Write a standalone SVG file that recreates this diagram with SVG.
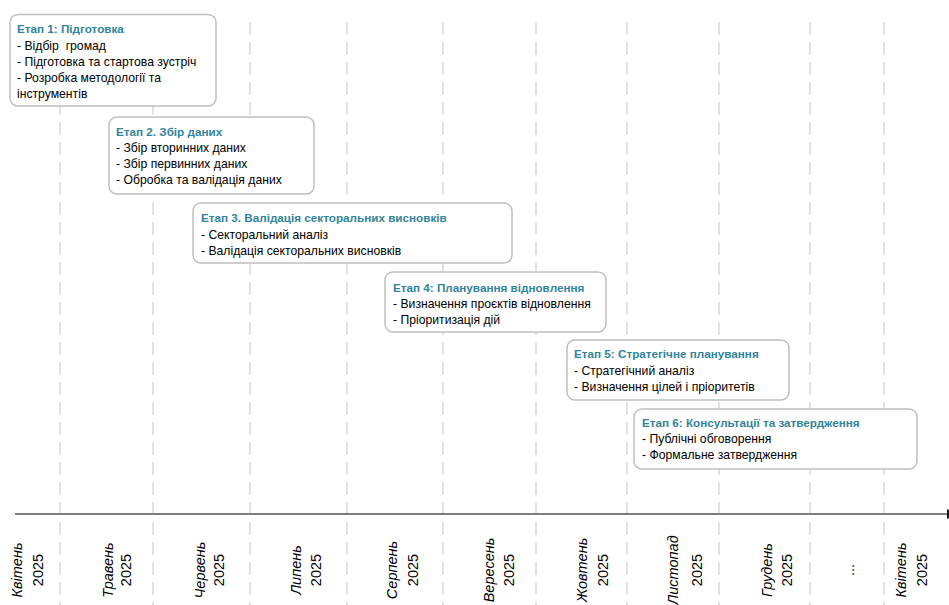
<svg xmlns="http://www.w3.org/2000/svg" width="949" height="605" viewBox="0 0 949 605">
<style>
.grid{stroke:#D9D9D9;stroke-width:1.5;stroke-dasharray:13 7;fill:none}
.box{fill:#FFFFFF;stroke:#BFBFBF;stroke-width:1.5}
.ttl{font-family:"Liberation Sans",Arial,sans-serif;font-size:11.7px;font-weight:bold;fill:#31849B}
.txt{font-family:"Liberation Sans",Arial,sans-serif;font-size:12.2px;fill:#000000}
.mon{font-family:"Liberation Sans",Arial,sans-serif;font-size:14.5px;font-style:italic;fill:#000000;text-anchor:middle}
.yr{font-family:"Liberation Sans",Arial,sans-serif;font-size:14.5px;fill:#000000;text-anchor:middle}
</style>
<defs>
<marker id="arr" markerWidth="10" markerHeight="10" refX="0" refY="5" orient="auto" markerUnits="userSpaceOnUse">
<path d="M0,0 L10,5 L0,10 Z" fill="#1a1a1a"/>
</marker>
</defs>
<rect width="949" height="605" fill="#FFFFFF"/>
<g id="grid">
<line class="grid" x1="60" y1="22" x2="60" y2="605"/>
<line class="grid" x1="153" y1="22" x2="153" y2="605"/>
<line class="grid" x1="250" y1="22" x2="250" y2="605"/>
<line class="grid" x1="347" y1="22" x2="347" y2="605"/>
<line class="grid" x1="443" y1="22" x2="443" y2="605"/>
<line class="grid" x1="536" y1="22" x2="536" y2="605"/>
<line class="grid" x1="627" y1="22" x2="627" y2="605"/>
<line class="grid" x1="719" y1="22" x2="719" y2="605"/>
<line class="grid" x1="810" y1="22" x2="810" y2="605"/>
<line class="grid" x1="884" y1="22" x2="884" y2="605"/>
</g>
<g id="connectors">
<line x1="15" y1="514" x2="947" y2="514" stroke="#7F7F7F" stroke-width="1.8" marker-end="url(#arr)"/>
</g>
<g id="stage1">
<rect class="box" x="10" y="14.5" width="206" height="91.5" rx="8"/>
<text class="ttl" x="17" y="33">Етап 1: Підготовка</text>
<text class="txt" x="17" y="50">- Відбір &#160;громад</text>
<text class="txt" x="17" y="66">- Підготовка та стартова зустріч</text>
<text class="txt" x="17" y="82">- Розробка методології та</text>
<text class="txt" x="17" y="98">інструментів</text>
</g>
<g id="stage2">
<rect class="box" x="109" y="117" width="205" height="77" rx="8"/>
<text class="ttl" x="116" y="136">Етап 2. Збір даних</text>
<text class="txt" x="116" y="152">- Збір вторинних даних</text>
<text class="txt" x="116" y="168">- Збір первинних даних</text>
<text class="txt" x="116" y="184">- Обробка та валідація даних</text>
</g>
<g id="stage3">
<rect class="box" x="193" y="203" width="319" height="60" rx="8"/>
<text class="ttl" x="201" y="222">Етап 3. Валідація секторальних висновків</text>
<text class="txt" x="201" y="239">- Секторальний аналіз</text>
<text class="txt" x="201" y="255">- Валідація секторальних висновків</text>
</g>
<g id="stage4">
<rect class="box" x="385" y="272" width="221" height="60" rx="8"/>
<text class="ttl" x="393" y="292">Етап 4: Планування відновлення</text>
<text class="txt" x="393" y="308">- Визначення проєктів відновлення</text>
<text class="txt" x="393" y="324">- Пріоритизація дій</text>
</g>
<g id="stage5">
<rect class="box" x="567" y="340" width="222" height="60" rx="8"/>
<text class="ttl" x="574" y="358">Етап 5: Стратегічне планування</text>
<text class="txt" x="574" y="375">- Стратегічний аналіз</text>
<text class="txt" x="574" y="391">- Визначення цілей і пріоритетів</text>
</g>
<g id="stage6">
<rect class="box" x="634" y="409" width="283" height="60" rx="8"/>
<text class="ttl" x="642" y="427">Етап 6: Консультації та затвердження</text>
<text class="txt" x="642" y="443">- Публічні обговорення</text>
<text class="txt" x="642" y="459">- Формальне затвердження</text>
</g>
<g id="labels">
<text class="mon" transform="translate(22,570) rotate(-90)">Квітень</text>
<text class="yr" transform="translate(43,570) rotate(-90)">2025</text>
<text class="mon" transform="translate(113,570) rotate(-90)">Травень</text>
<text class="yr" transform="translate(131,570) rotate(-90)">2025</text>
<text class="mon" transform="translate(205,570) rotate(-90)">Червень</text>
<text class="yr" transform="translate(224,570) rotate(-90)">2025</text>
<text class="mon" transform="translate(301,570) rotate(-90)">Липень</text>
<text class="yr" transform="translate(321,570) rotate(-90)">2025</text>
<text class="mon" transform="translate(397,570) rotate(-90)">Серпень</text>
<text class="yr" transform="translate(418,570) rotate(-90)">2025</text>
<text class="mon" transform="translate(494,570) rotate(-90)">Вересень</text>
<text class="yr" transform="translate(514,570) rotate(-90)">2025</text>
<text class="mon" transform="translate(587,570) rotate(-90)">Жовтень</text>
<text class="yr" transform="translate(608,570) rotate(-90)">2025</text>
<text class="mon" transform="translate(678,570) rotate(-90)">Листопад</text>
<text class="yr" transform="translate(702,570) rotate(-90)">2025</text>
<text class="mon" transform="translate(772,570) rotate(-90)">Грудень</text>
<text class="yr" transform="translate(792,570) rotate(-90)">2025</text>
<text class="yr" transform="translate(854,570) rotate(-90)">...</text>
<text class="mon" transform="translate(906,570) rotate(-90)">Квітень</text>
<text class="yr" transform="translate(927,570) rotate(-90)">2025</text>
</g>
</svg>
